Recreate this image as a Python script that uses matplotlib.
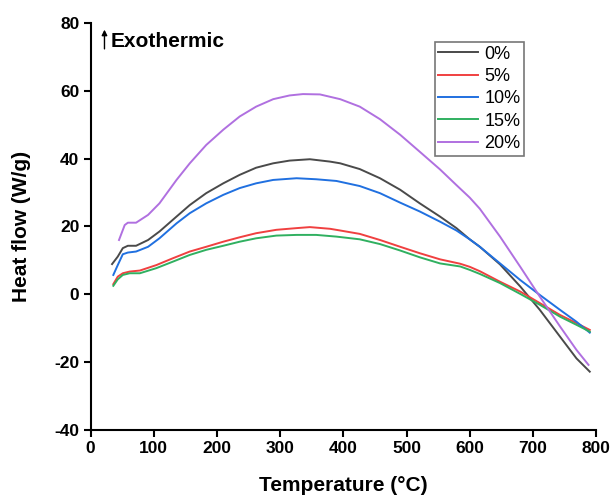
import matplotlib
matplotlib.use("Agg")
import matplotlib.pyplot as plt
import numpy as np

plt.rcParams['font.family'] = ['Liberation Sans', 'DejaVu Sans']
plt.rcParams['axes.unicode_minus'] = False

temp_0 = [34, 43, 51, 59, 72, 91, 109, 136, 157, 183, 210, 236, 262, 289, 315, 347, 379, 395, 426, 458, 490, 521, 553, 579, 600, 616, 648, 680, 711, 743, 769, 790]
hf_0 = [8.9, 11.1, 13.6, 14.3, 14.3, 16.0, 18.5, 22.9, 26.3, 29.8, 32.7, 35.2, 37.3, 38.6, 39.4, 39.8, 39.1, 38.6, 36.9, 34.2, 30.8, 26.8, 22.9, 19.5, 16.2, 14.0, 8.8, 2.3, -4.6, -12.5, -18.9, -22.8]

temp_5 = [36, 43, 51, 62, 78, 104, 130, 157, 183, 210, 236, 262, 294, 326, 347, 379, 395, 426, 458, 490, 521, 553, 585, 600, 616, 648, 680, 711, 743, 769, 790]
hf_5 = [3.0, 5.2, 6.2, 6.7, 7.0, 8.6, 10.6, 12.6, 14.0, 15.5, 16.8, 18.0, 19.0, 19.5, 19.8, 19.3, 18.8, 17.8, 16.0, 14.0, 12.1, 10.3, 9.0, 8.1, 6.8, 3.7, 0.8, -2.6, -6.1, -8.5, -10.5]

temp_10 = [36, 43, 51, 59, 72, 91, 109, 136, 157, 183, 210, 236, 262, 289, 326, 357, 389, 426, 458, 490, 521, 553, 579, 600, 616, 648, 680, 711, 743, 769, 790]
hf_10 = [5.7, 8.6, 11.8, 12.3, 12.6, 14.0, 16.5, 20.9, 23.9, 26.8, 29.3, 31.3, 32.7, 33.7, 34.2, 33.9, 33.4, 31.9, 29.8, 27.0, 24.4, 21.4, 18.8, 16.2, 14.0, 9.1, 4.2, -0.2, -4.6, -8.1, -11.3]

temp_15 = [36, 43, 51, 62, 78, 104, 130, 157, 183, 210, 236, 262, 294, 326, 357, 389, 426, 458, 490, 521, 553, 585, 600, 616, 648, 680, 711, 743, 769, 790]
hf_15 = [2.5, 4.4, 5.7, 6.2, 6.2, 7.7, 9.6, 11.6, 13.1, 14.3, 15.5, 16.5, 17.3, 17.5, 17.5, 17.0, 16.2, 14.8, 12.9, 10.9, 9.1, 8.2, 7.2, 6.0, 3.3, 0.1, -3.1, -6.6, -9.0, -11.0]

temp_20 = [45, 54, 59, 72, 91, 109, 136, 157, 183, 210, 236, 262, 289, 315, 336, 363, 395, 426, 458, 490, 521, 553, 580, 600, 616, 648, 680, 711, 743, 769, 788]
hf_20 = [16.0, 20.4, 21.1, 21.1, 23.4, 26.8, 33.7, 38.6, 44.0, 48.5, 52.4, 55.3, 57.5, 58.6, 59.0, 58.9, 57.5, 55.3, 51.6, 47.0, 42.0, 36.8, 32.0, 28.5, 25.2, 17.0, 8.1, -0.7, -9.5, -16.4, -20.8]

labels = ['0%', '5%', '10%', '15%', '20%']
colors = ['#4a4a4a', '#f04040', '#2070e0', '#30b060', '#b070e0']

fig = plt.figure(figsize=(6.12, 4.96), dpi=100)
ax = fig.add_axes([0.148, 0.133, 0.826, 0.821])

series = [(temp_0, hf_0), (temp_5, hf_5), (temp_10, hf_10), (temp_15, hf_15), (temp_20, hf_20)]
for (xs, ys), lab, c in zip(series, labels, colors):
    ax.plot(xs, ys, color=c, lw=1.4, label=lab, solid_joinstyle='round')

ax.set_xlim(0, 800)
ax.set_ylim(-40, 80)
ax.set_xticks(np.arange(0, 801, 100))
ax.set_yticks(np.arange(-40, 81, 20))
for s in ['top', 'right']:
    ax.spines[s].set_visible(False)
for s in ['left', 'bottom']:
    ax.spines[s].set_linewidth(1.5)
ax.tick_params(direction='out', length=5, width=1.5, labelsize=12.5, pad=3)
for t in ax.get_xticklabels() + ax.get_yticklabels():
    t.set_fontweight('bold')
ax.set_xlabel('Temperature (°C)', fontsize=15, fontweight='bold', labelpad=14)
ax.set_ylabel('Heat flow (W/g)', fontsize=15, fontweight='bold', labelpad=17)

leg = ax.legend(loc='upper left', bbox_to_anchor=(0.681, 0.953), fontsize=13,
                frameon=True, fancybox=False, handlelength=2.2, handletextpad=0.35,
                labelspacing=0.3, borderpad=0.2, borderaxespad=0)
leg.get_frame().set_edgecolor('#555555')
leg.get_frame().set_linewidth(1.2)

ax.annotate('', xy=(22, 78.8), xytext=(22, 71.5),
            arrowprops=dict(arrowstyle='-|>', color='black', lw=1.0, mutation_scale=8))
ax.text(32, 74.4, 'Exothermic', fontsize=15, fontweight='bold', va='center', ha='left')

fig.savefig('out.png', dpi=100)
